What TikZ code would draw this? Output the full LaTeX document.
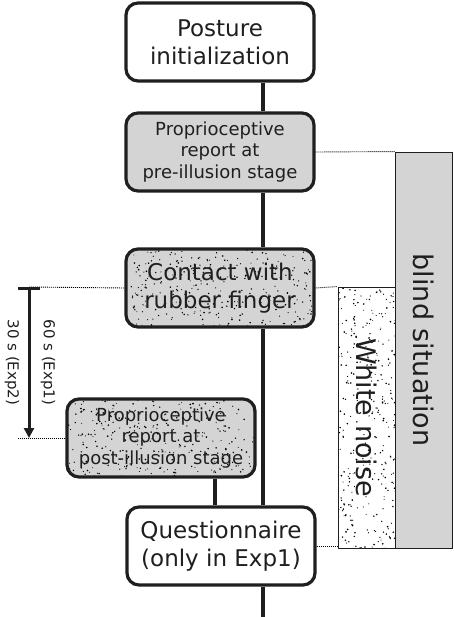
\documentclass[tikz,border=0pt]{standalone}
\usepackage{fontspec}
\setmainfont{DejaVu Sans}
\usepackage{graphicx}
\usepackage{xcolor}
\usepackage{tikz}
\usetikzlibrary{arrows.meta}
\usetikzlibrary{calc}
\colorlet{boxgray}{black!17}
\colorlet{inkdark}{black!88}
\tikzstyle{stage}=[draw=inkdark,line width=3.2pt,rounded corners=12pt,minimum width=188pt,minimum height=78pt,inner sep=0pt,align=center,text=inkdark]
\tikzstyle{bigtxt}=[font=\fontsize{23}{28}\selectfont]
\tikzstyle{smalltxt}=[font=\fontsize{18}{21.5}\selectfont]
\tikzstyle{band}=[draw=inkdark,line width=.9pt,minimum width=57pt,inner sep=0pt,text=inkdark,font=\fontsize{27}{32}\selectfont]
\tikzstyle{spine}=[line width=3.6pt,draw=inkdark]
\tikzstyle{guide}=[line width=.9pt,dash pattern=on 1pt off 1pt,draw=black]
\tikzset{timer/.style={line width=3pt,draw=inkdark,{Bar[width=22pt]}-{Triangle[length=10pt,width=10pt]}}}
\tikzstyle{timelbl}=[inner sep=0pt,text=inkdark,font=\fontsize{15}{18}\selectfont]
\tikzset{stipple/.style n args={3}{path picture={%
  \foreach \k in {1,...,#1}
    \fill[black] (path picture bounding box.center) ++({rand*#2},{rand*#3}) circle ({.5pt+.45pt*rnd});}}}

\begin{document}
\begin{tikzpicture}[x=1pt,y=-1pt]
	\useasboundingbox (0,0) rectangle (454,617);
	\pgfmathsetseed{4217}
	\node[stage,bigtxt,fill=white]              (posture) at (220,42)  {Posture\\initialization};
	\node[stage,smalltxt,fill=boxgray]          (pre)     at (220,152) {Proprioceptive\\report at\\pre-illusion stage};
	\node[stage,bigtxt,fill=boxgray,stipple={300}{94pt}{39pt}]  (contact) at (220,288) {Contact with\\rubber finger};
	\node[stage,smalltxt,fill=boxgray,stipple={300}{94pt}{39pt}] (post)  at (161,438) {Proprioceptive\\report at\\post-illusion stage};
	\node[stage,bigtxt,fill=white]              (quest)   at (221,546) {Questionnaire\\(only in Exp1)};
	\node[band,fill=boxgray,minimum height=396pt]                       (blind) at (423.5,350)   {\rotatebox{-90}{blind situation}};
	\node[band,fill=white,minimum height=261pt,stipple={320}{29pt}{131pt}] (noise) at (366.5,417.5) {\rotatebox{-90}{White noise}};
	\coordinate (axis)   at (263,0);
	\coordinate (tap)    at (215,0);
	\coordinate (bottom) at (263,617);
	\coordinate (tstart) at (29,287);
	\coordinate (tend)   at (29,438);
	\draw[spine] (posture.south -| axis) -- (pre.north -| axis);
	\draw[spine] (pre.south -| axis) -- (contact.north -| axis);
	\draw[spine] (contact.south -| axis) -- (quest.north -| axis);
	\draw[spine] (quest.south -| axis) -- (bottom);
	\draw[spine] (post.south -| tap) -- (quest.north -| tap);
	\draw[guide] (pre.east) -- (blind.north west);
	\draw[guide] (tstart) -- (contact.west);
	\draw[guide] (contact.east) -- (noise.north west);
	\draw[guide] (post.west) -- ([xshift=-11pt]tend);
	\draw[guide] (quest.east) -- (quest.east -| noise.west);
	\draw[timer] (tstart) -- (tend)
		node[midway,xshift=19pt,rotate=-90,timelbl] {60 s (Exp1)}
		node[midway,xshift=-17pt,rotate=-90,timelbl] {30 s (Exp2)};
\end{tikzpicture}
\end{document}
